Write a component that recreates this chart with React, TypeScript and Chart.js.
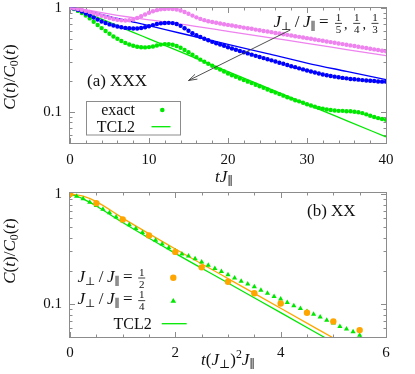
import React, { useEffect, useRef } from 'react';
import { Chart, registerables } from 'chart.js';
Chart.register(...registerables);

// ---------------- panel (a) XXX ----------------
const tA = [0,0.5,1,1.5,2,2.5,3,3.5,4,4.5,5,5.5,6,6.5,7,7.5,8,8.5,9,9.5,10,10.5,11,11.5,12,12.5,13,13.5,14,14.5,15,15.5,16,16.5,17,17.5,18,18.5,19,19.5,20,20.5,21,21.5,22,22.5,23,23.5,24,24.5,25,25.5,26,26.5,27,27.5,28,28.5,29,29.5,30,30.5,31,31.5,32,32.5,33,33.5,34,34.5,35,35.5,36,36.5,37,37.5,38,38.5,39,39.5,40];
const exactFifth = [
  1.0,0.993,0.977,0.959,0.938,0.916,0.891,0.867,0.841,0.820,
  0.800,0.783,0.769,0.760,0.757,0.762,0.776,0.800,0.832,0.865,
  0.899,0.929,0.953,0.971,0.979,0.982,0.979,0.968,0.946,0.916,
  0.881,0.845,0.813,0.785,0.764,0.746,0.733,0.721,0.710,0.698,
  0.687,0.678,0.667,0.658,0.647,0.638,0.630,0.619,0.611,0.601,
  0.593,0.585,0.575,0.568,0.558,0.551,0.543,0.535,0.527,0.520,
  0.512,0.505,0.497,0.490,0.483,0.475,0.469,0.462,0.455,0.449,
  0.442,0.436,0.430,0.423,0.417,0.411,0.405,0.399,0.394,0.387,
  0.382];
const exactQuarter = [
  1.0,0.989,0.959,0.923,0.885,0.847,0.809,0.773,0.741,0.716,
  0.695,0.678,0.664,0.652,0.643,0.637,0.634,0.635,0.641,0.652,
  0.667,0.684,0.700,0.711,0.718,0.719,0.715,0.700,0.673,0.638,
  0.603,0.571,0.546,0.525,0.506,0.489,0.472,0.457,0.444,0.432,
  0.419,0.407,0.396,0.385,0.375,0.365,0.355,0.346,0.337,0.329,
  0.321,0.313,0.305,0.297,0.290,0.282,0.275,0.269,0.262,0.256,
  0.250,0.244,0.239,0.234,0.229,0.225,0.221,0.218,0.215,0.212,
  0.210,0.207,0.206,0.204,0.202,0.200,0.199,0.198,0.196,0.195,
  0.195];
const exactThird = [
  1.0,0.977,0.938,0.895,0.847,0.794,0.736,0.686,0.640,0.600,
  0.564,0.532,0.505,0.481,0.461,0.445,0.432,0.423,0.418,0.417,
  0.420,0.426,0.435,0.444,0.449,0.449,0.443,0.431,0.414,0.394,
  0.374,0.355,0.336,0.318,0.303,0.290,0.278,0.266,0.255,0.244,
  0.234,0.225,0.217,0.209,0.202,0.195,0.189,0.182,0.176,0.170,
  0.164,0.158,0.153,0.148,0.143,0.138,0.134,0.129,0.126,0.122,
  0.118,0.115,0.112,0.109,0.107,0.105,0.104,0.103,0.102,0.102,
  0.101,0.101,0.100,0.0989,0.0971,0.0944,0.0916,0.0891,0.0869,0.0851,
  0.0836];
const tTclA = [0,1,2,3,4,6,8,10,14,20,25,30,35,40];
const tclFifth = [1,0.989,0.959,0.931,0.902,0.851,0.807,0.767,0.700,0.596,0.521,0.457,0.398,0.347];
const tclQuarter = [1,0.986,0.951,0.906,0.861,0.794,0.733,0.676,0.571,0.447,0.363,0.295,0.245,0.204];
const tclThird = [1,0.966,0.902,0.838,0.780,0.675,0.583,0.505,0.378,0.244,0.170,0.118,0.0822,0.0573];

// ---------------- panel (b) XX ----------------
const tB = [0,0.5,1,1.5,2,2.5,3,3.5,4,4.5,5,5.5];
const exactHalf = [1,0.822,0.587,0.419,0.297,0.215,0.159,0.125,0.101,0.0832,0.0693,0.0578];
const tB4 = [0,0.125,0.25,0.375,0.5,0.625,0.75,0.875,1,1.125,1.25,1.375,1.5,1.625,1.75,1.875,2,2.125,2.25,2.375,2.5,2.625,2.75,2.875,3,3.125,3.25,3.375,3.5,3.625,3.75,3.875,4,4.125,4.25,4.375,4.5,4.625,4.75,4.875,5,5.125,5.25,5.375,5.5];
const exactQuarterXX = [1.0,0.955,0.902,0.841,0.785,0.724,0.676,0.617,0.569,0.525,0.484,0.447,0.412,0.380,0.351,0.324,0.302,0.285,0.272,0.257,0.240,0.225,0.210,0.197,0.184,0.172,0.161,0.152,0.143,0.133,0.125,0.117,0.111,0.103,0.0964,0.0906,0.0851,0.0804,0.0759,0.0711,0.0670,0.0624,0.0590,0.0558,0.0520];
const tTclB = [0,0.25,0.5,1,2,3,4,5];
const tclHalf = [1,0.955,0.851,0.603,0.316,0.170,0.0912,0.0490];
const tclQuarterXX = [1,0.902,0.776,0.550,0.288,0.155,0.0832,0.0447];

// ---------------- ticks ----------------
const xMajorA = [0,10,20,30,40];
const xMinorA = [2,4,6,8,12,14,16,18,22,24,26,28,32,34,36,38];
const xMajorB = [0,2,4,6];
const xMinorB = [0.5,1,1.5,2.5,3,3.5,4.5,5,5.5];
const yMajor = [0.1,1];
const yMinor = [0.05,0.06,0.07,0.08,0.09,0.2,0.3,0.4,0.5,0.6,0.7,0.8,0.9];

const FONT = '"Liberation Serif", "DejaVu Serif", serif';
const TXT = '#111111';
const FRAME = '#8c8c8c';
const VIOLET = '#ee82ee';
const BLUE = '#0000ff';
const GREEN = '#00e800';
const ORANGE = '#ffa500';

type Run = { t: string; it?: boolean; s?: number; dy?: number };

function fontOf(r: Run, size: number) {
  return `${r.it ? 'italic ' : ''}${Math.round(size * (r.s || 1) * 10) / 10}px ${FONT}`;
}
function drawRuns(ctx: CanvasRenderingContext2D, runs: Run[], x: number, y: number, size: number, align: 'left' | 'center' | 'right') {
  const widths = runs.map((r) => { ctx.font = fontOf(r, size); return ctx.measureText(r.t).width; });
  const total = widths.reduce((a, b) => a + b, 0);
  let cx = align === 'left' ? x : align === 'center' ? x - total / 2 : x - total;
  ctx.textAlign = 'left';
  ctx.textBaseline = 'alphabetic';
  runs.forEach((r, i) => { ctx.font = fontOf(r, size); ctx.fillText(r.t, cx, y + (r.dy || 0)); cx += widths[i]; });
  return total;
}
function drawFrac(ctx: CanvasRenderingContext2D, num: string, den: string, cx: number, barY: number, size: number) {
  ctx.font = `${size}px ${FONT}`;
  ctx.textAlign = 'center';
  ctx.textBaseline = 'alphabetic';
  ctx.fillText(num, cx, barY - 2.4);
  ctx.fillText(den, cx, barY + size * 0.88);
  const w = Math.max(ctx.measureText(num).width, ctx.measureText(den).width) + 1.5;
  ctx.fillRect(cx - w / 2, barY - 0.4, w, 0.8);
}

const jRatio: Run[] = [
  { t: 'J', it: true }, { t: '⊥', s: 0.65, dy: 3 }, { t: '\u2009/\u2009' },
  { t: 'J', it: true }, { t: '∥', s: 0.65, dy: 3 }, { t: '\u2009=\u2009' },
];
const yTitle: Run[] = [
  { t: 'C', it: true }, { t: '(' }, { t: 't', it: true }, { t: ')/' },
  { t: 'C', it: true }, { t: '0', s: 0.7, dy: 3 }, { t: '(' }, { t: 't', it: true }, { t: ')' },
];

function frameTicks(xMajor: number[], xMinor: number[]) {
  return {
    id: 'frameTicks',
    beforeDatasetsDraw(chart: any) {
      const { ctx, chartArea: a, scales } = chart;
      const xs = scales.x, ys = scales.y;
      ctx.save();
      ctx.strokeStyle = FRAME;
      ctx.lineWidth = 1;
      ctx.strokeRect(a.left - 0.5, a.top - 0.5, a.right - a.left + 1, a.bottom - a.top + 1);
      ctx.beginPath();
      const tx = (v: number, len: number) => {
        const p = Math.round(xs.getPixelForValue(v)) + 0.5;
        ctx.moveTo(p, a.bottom); ctx.lineTo(p, a.bottom - len);
        ctx.moveTo(p, a.top); ctx.lineTo(p, a.top + len);
      };
      const ty = (v: number, len: number) => {
        const p = Math.round(ys.getPixelForValue(v)) + 0.5;
        ctx.moveTo(a.left, p); ctx.lineTo(a.left + len, p);
        ctx.moveTo(a.right, p); ctx.lineTo(a.right - len, p);
      };
      xMajor.forEach((v) => tx(v, 5));
      xMinor.forEach((v) => tx(v, 2.5));
      yMajor.forEach((v) => ty(v, 5));
      yMinor.forEach((v) => ty(v, 2.5));
      ctx.stroke();
      ctx.restore();
    },
  };
}

const annotA = {
  id: 'annotA',
  afterDraw(chart: any) {
    const { ctx, scales } = chart;
    const xs = scales.x, ys = scales.y;
    ctx.save();
    ctx.fillStyle = TXT;
    ctx.save();
    ctx.translate(14.5, 77);
    ctx.rotate(-Math.PI / 2);
    drawRuns(ctx, yTitle, 0, 0, 17, 'center');
    ctx.restore();
    drawRuns(ctx, [{ t: 't', it: true }, { t: 'J', it: true }, { t: '∥', s: 0.7, dy: 3 }], 224, 182, 17, 'center');
    drawRuns(ctx, [{ t: '(a) XXX' }], 87, 86, 17, 'left');
    drawRuns(ctx, jRatio, 332, 27, 17, 'right');
    drawFrac(ctx, '1', '5', 338.5, 23.3, 11);
    drawRuns(ctx, [{ t: ',' }], 344, 29, 14, 'left');
    drawFrac(ctx, '1', '4', 356.7, 23.3, 11);
    drawRuns(ctx, [{ t: ',' }], 362.5, 29, 14, 'left');
    drawFrac(ctx, '1', '3', 375, 23.3, 11);
    const x0 = xs.getPixelForValue(27.9), y0 = ys.getPixelForValue(0.615);
    const x1 = xs.getPixelForValue(15), y1 = ys.getPixelForValue(0.2);
    const ang = Math.atan2(y1 - y0, x1 - x0);
    ctx.strokeStyle = '#3c3c3c';
    ctx.lineWidth = 0.9;
    ctx.beginPath();
    ctx.moveTo(x0, y0); ctx.lineTo(x1, y1);
    const hl = 9, ha = 0.3;
    ctx.moveTo(x1 - hl * Math.cos(ang - ha), y1 - hl * Math.sin(ang - ha));
    ctx.lineTo(x1, y1);
    ctx.lineTo(x1 - hl * Math.cos(ang + ha), y1 - hl * Math.sin(ang + ha));
    ctx.stroke();
    ctx.fillStyle = '#ffffff';
    ctx.fillRect(86, 101.5, 95, 33.5);
    ctx.strokeStyle = FRAME;
    ctx.lineWidth = 1;
    ctx.strokeRect(86.5, 101.5, 94, 33.5);
    ctx.fillStyle = TXT;
    drawRuns(ctx, [{ t: 'exact' }], 135, 114.5, 16, 'right');
    drawRuns(ctx, [{ t: 'TCL2' }], 135, 131.5, 16, 'right');
    ctx.fillStyle = GREEN;
    ctx.beginPath();
    ctx.arc(162.3, 110, 2.3, 0, Math.PI * 2);
    ctx.fill();
    ctx.strokeStyle = GREEN;
    ctx.lineWidth = 1.3;
    ctx.beginPath();
    ctx.moveTo(151.5, 126.7); ctx.lineTo(170.5, 126.7);
    ctx.stroke();
    ctx.restore();
  },
};

const annotB = {
  id: 'annotB',
  afterDraw(chart: any) {
    const { ctx } = chart;
    ctx.save();
    ctx.fillStyle = TXT;
    ctx.save();
    ctx.translate(14.5, 64);
    ctx.rotate(-Math.PI / 2);
    drawRuns(ctx, yTitle, 0, 0, 17, 'center');
    ctx.restore();
    drawRuns(ctx, [
      { t: 't', it: true }, { t: '(' }, { t: 'J', it: true }, { t: '⊥', s: 0.7, dy: 3 }, { t: ')' },
      { t: '2', s: 0.7, dy: -6.5 }, { t: 'J', it: true }, { t: '∥', s: 0.7, dy: 3 },
    ], 228, 177.5, 17, 'center');
    drawRuns(ctx, [{ t: '(b) XX' }], 307, 29, 17, 'left');
    drawRuns(ctx, jRatio, 136, 94.7, 17, 'right');
    drawFrac(ctx, '1', '2', 141.7, 91, 11);
    drawRuns(ctx, jRatio, 136, 117.4, 17, 'right');
    drawFrac(ctx, '1', '4', 141.7, 113.7, 11);
    drawRuns(ctx, [{ t: 'TCL2' }], 151.7, 142, 16, 'right');
    ctx.fillStyle = ORANGE;
    ctx.beginPath();
    ctx.arc(173.3, 90.7, 3.2, 0, Math.PI * 2);
    ctx.fill();
    ctx.fillStyle = GREEN;
    const r = 3, cx = 173.3, cy = 114;
    ctx.beginPath();
    ctx.moveTo(cx, cy - r);
    ctx.lineTo(cx + r * 0.95, cy + r * 0.62);
    ctx.lineTo(cx - r * 0.95, cy + r * 0.62);
    ctx.closePath();
    ctx.fill();
    ctx.strokeStyle = GREEN;
    ctx.lineWidth = 1.3;
    ctx.beginPath();
    ctx.moveTo(161.7, 136.7); ctx.lineTo(186.7, 136.7);
    ctx.stroke();
    ctx.restore();
  },
};

const pts = (xs: number[], ys: number[]) => xs.map((x, i) => ({ x, y: ys[i] }));
const dotSet = (xs: number[], ys: number[], color: string, r: number, style = 'circle') => ({
  data: pts(xs, ys), showLine: false, pointRadius: r, pointStyle: style,
  pointBackgroundColor: color, pointBorderWidth: 0, pointBorderColor: color,
});
const lineSet = (xs: number[], ys: number[], color: string) => ({
  data: pts(xs, ys), showLine: true, pointRadius: 0, borderColor: color, borderWidth: 1.3,
  tension: 0.35, cubicInterpolationMode: 'monotone', clip: { left: 5, top: 5, right: 5, bottom: 0 },
});

function scaleOpts(xMin: number, xMax: number, step: number, yMax: number, xH: number, xPad: number) {
  const tickFont = { family: FONT, size: 15 };
  return {
    x: {
      type: 'linear', min: xMin, max: xMax,
      grid: { display: false, drawTicks: false }, border: { display: false },
      ticks: { stepSize: step, padding: xPad, font: tickFont, color: TXT, maxRotation: 0 },
      afterFit: (s: any) => { s.height = xH; s.paddingLeft = 0; s.paddingRight = 0; },
    },
    y: {
      type: 'logarithmic', min: 0.05, max: yMax,
      grid: { display: false, drawTicks: false }, border: { display: false },
      ticks: { padding: 8, font: tickFont, color: TXT, autoSkip: false, callback: (v: any) => String(v) },
      afterBuildTicks: (s: any) => { s.ticks = yMajor.map((v) => ({ value: v })); },
      afterFit: (s: any) => { s.width = 70; s.paddingTop = 0; s.paddingBottom = 0; },
    },
  };
}

export default function App() {
  const aRef = useRef<HTMLCanvasElement>(null);
  const bRef = useRef<HTMLCanvasElement>(null);
  useEffect(() => {
    const common = {
      responsive: false, animation: false, events: [],
      plugins: { legend: { display: false }, tooltip: { enabled: false } },
    };
    const c1 = new Chart(aRef.current as HTMLCanvasElement, {
      type: 'scatter',
      data: {
        datasets: [
          dotSet(tA, exactFifth, VIOLET, 2.2),
          dotSet(tA, exactQuarter, BLUE, 2.2),
          dotSet(tA, exactThird, GREEN, 2.2),
          lineSet(tTclA, tclFifth, VIOLET),
          lineSet(tTclA, tclQuarter, BLUE),
          lineSet(tTclA, tclThird, GREEN),
        ] as any,
      },
      options: {
        ...common,
        layout: { padding: { top: 8, right: 29, left: 0, bottom: 0 } },
        scales: scaleOpts(0, 40, 10, 1, 44, 8) as any,
      } as any,
      plugins: [frameTicks(xMajorA, xMinorA), annotA],
    });
    const c2 = new Chart(bRef.current as HTMLCanvasElement, {
      type: 'scatter',
      data: {
        datasets: [
          dotSet(tB, exactHalf, ORANGE, 3.2),
          dotSet(tB4, exactQuarterXX, GREEN, 3, 'triangle'),
          lineSet(tTclB, tclHalf, ORANGE),
          lineSet(tTclB, tclQuarterXX, GREEN),
        ] as any,
      },
      options: {
        ...common,
        layout: { padding: { top: 6, right: 29, left: 0, bottom: 0 } },
        scales: scaleOpts(0, 6, 2, 1.02, 37, 7) as any,
      } as any,
      plugins: [frameTicks(xMajorB, xMinorB), annotB],
    });
    return () => { c1.destroy(); c2.destroy(); };
  }, []);
  return (
    <div style={{ position: 'absolute', left: 0, top: 0, width: 415, height: 374, background: '#ffffff' }}>
      <canvas ref={aRef} width={415} height={187} style={{ display: 'block', width: 415, height: 187 }} />
      <canvas ref={bRef} width={415} height={187} style={{ display: 'block', width: 415, height: 187 }} />
    </div>
  );
}
